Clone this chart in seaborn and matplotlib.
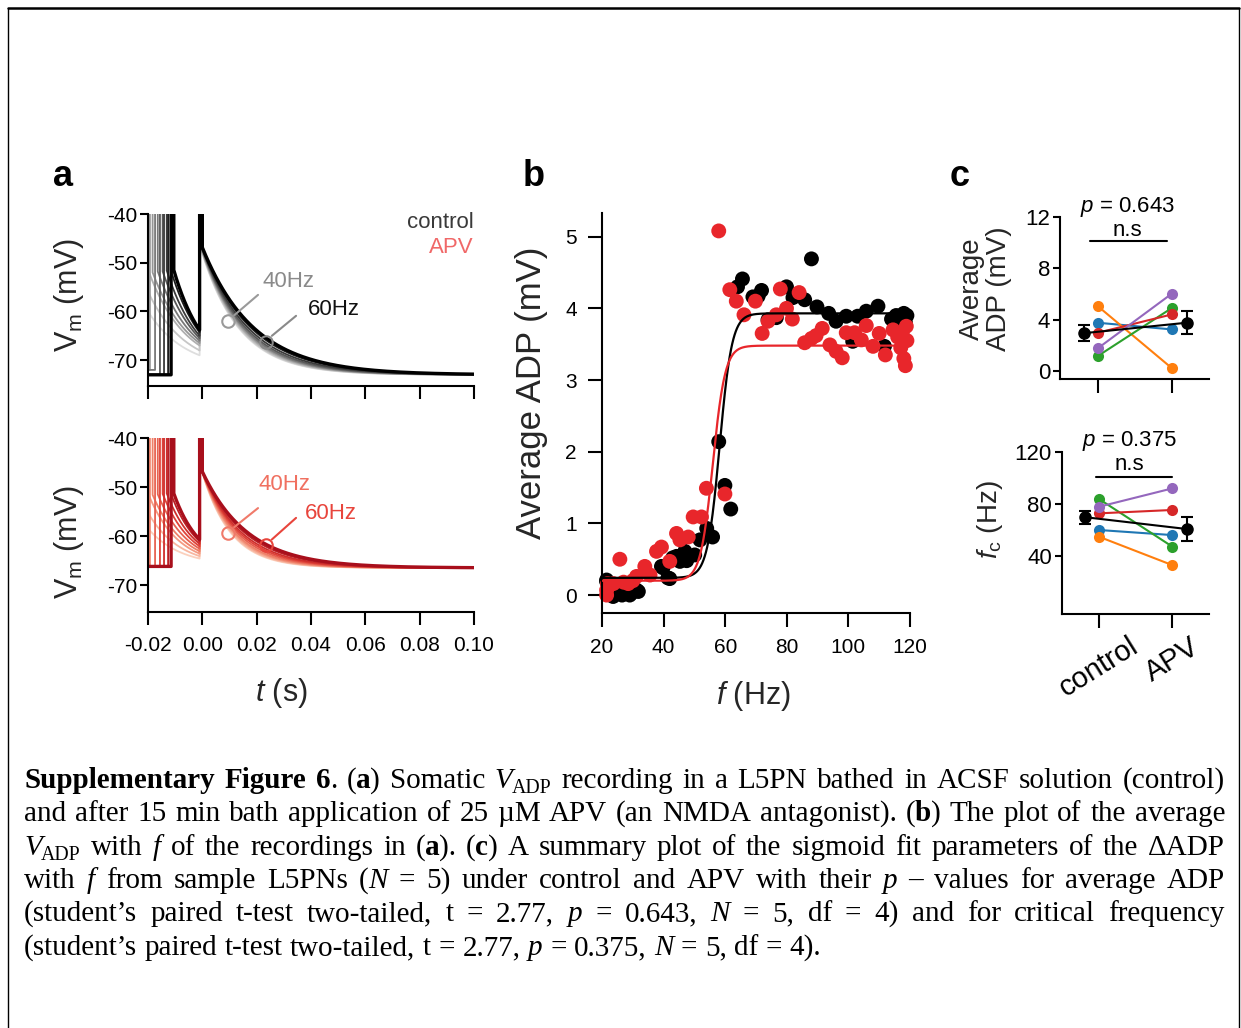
import numpy as np
import pandas as pd
import matplotlib
matplotlib.use("Agg")
import matplotlib.pyplot as plt
from matplotlib.lines import Line2D
from matplotlib.transforms import IdentityTransform
import seaborn as sns

# ---------------------------------------------------------------- data
# (a) somatic sweeps: time of the first spike (ms); every sweep fires again at t = 0
first_spike_ms = [-28.0, -24.0, -20.6, -19.3, -17.4, -15.6, -14.1, -12.6, -11.5]

ctrl_rest_pre = [-72.0, -72.0, -72.0, -72.0, -72.0, -73.0, -73.0, -73.0, -73.0]
ctrl_v_after_first = [-52.0, -52.0, -52.0, -52.0, -51.8, -51.8, -51.6, -51.5, -51.5]
ctrl_v_before_last = [-69.0, -68.0, -67.0, -66.5, -66.0, -65.5, -65.0, -64.3, -63.8]
ctrl_v_1ms = [-49.8, -49.6, -49.4, -49.2, -49.0, -48.8, -48.6, -48.4, -48.2]
ctrl_v_20ms = [-67.0, -66.8, -66.5, -66.2, -65.9, -65.5, -65.0, -64.4, -63.9]
ctrl_rest_post = -73.0

apv_rest_pre = [-66.2] * 9
apv_v_after_first = [-52.4, -52.0, -51.8, -51.6, -51.5, -51.4, -51.3, -51.3, -51.3]
apv_v_before_last = [-64.6, -64.1, -63.6, -63.1, -62.6, -62.1, -61.6, -61.1, -60.7]
apv_v_1ms = [-48.8, -48.7, -48.6, -48.5, -48.4, -48.3, -48.2, -48.1, -48.0]
apv_v_20ms = [-63.6, -63.4, -63.1, -62.8, -62.4, -62.0, -61.6, -61.1, -60.6]
apv_rest_post = -66.5

# (b) average ADP versus stimulation frequency
ctrl_f = [21.5, 21.5, 22.5, 23.6, 25.8, 26.5, 29.0, 29.6, 31.2, 31.8,
          39.3, 39.8, 41.4, 42.0, 43.0, 44.2, 45.3, 46.9, 47.5, 50.1,
          51.8, 54.0, 55.9, 57.9, 59.9, 61.8, 64.0, 65.6, 69.0, 70.7,
          71.8, 73.9, 76.6, 79.9, 82.0, 85.8, 88.0, 89.8, 93.6, 96.0,
          99.3, 101.4, 103.0, 105.8, 109.6, 111.7, 114.0, 115.5, 116.5, 117.5,
          118.5, 119.0, 118.0]
ctrl_adp = [0.21, 0.19, 0.05, -0.02, 0.05, 0.00, 0.00, 0.03, 0.07, 0.05,
            0.40, 0.38, 0.24, 0.23, 0.52, 0.54, 0.47, 0.61, 0.48, 0.56,
            0.77, 0.93, 0.81, 2.14, 1.53, 1.20, 4.30, 4.41, 4.16, 4.17,
            4.25, 3.84, 3.87, 4.30, 4.15, 4.12, 4.69, 4.02, 3.93, 3.82,
            3.89, 3.54, 3.89, 3.96, 4.03, 3.47, 3.85, 3.90, 3.82, 3.88,
            3.80, 3.90, 3.93]
apv_f = [21.5, 21.5, 21.8, 23.7, 25.8, 27.0, 28.5, 30.0, 31.2, 33.9,
         35.6, 37.7, 39.3, 42.0, 44.2, 45.3, 48.0, 49.6, 52.3, 53.9,
         57.9, 59.9, 61.5, 63.6, 66.1, 69.8, 72.0, 73.9, 76.6, 77.9,
         79.9, 81.8, 84.0, 85.8, 88.0, 89.5, 91.5, 94.0, 96.0, 98.0,
         99.3, 102.0, 104.2, 105.8, 108.0, 110.0, 112.0, 114.5, 116.0, 117.0,
         118.0, 118.5, 119.0, 118.8, 117.5]
apv_adp = [0.00, 0.07, 0.16, 0.16, 0.50, 0.18, 0.16, 0.20, 0.26, 0.40,
           0.28, 0.61, 0.67, 0.47, 0.86, 0.77, 0.81, 1.09, 1.09, 1.49,
           5.08, 1.41, 4.26, 4.10, 3.91, 4.10, 3.65, 3.82, 3.91, 4.27,
           4.00, 3.85, 4.22, 3.52, 3.58, 3.62, 3.72, 3.49, 3.40, 3.31,
           3.66, 3.66, 3.56, 3.76, 3.47, 3.65, 3.35, 3.70, 3.60, 3.45,
           3.30, 3.20, 3.55, 3.75, 3.65]

# sigmoid fit parameters: bottom, top, half-activation frequency, slope
ctrl_fit = [0.24, 3.93, 58.2, 2.0]
apv_fit = [0.20, 3.48, 56.0, 2.0]

# (c) per-cell sigmoid parameters
cell_names = ["cell 1", "cell 2", "cell 3", "cell 4", "cell 5"]
cell_colors = ["#1f77b4", "#ff7f0e", "#2ca02c", "#d62728", "#9467bd"]
conditions = ["control", "APV"]
adp_control = [3.75, 5.04, 1.16, 2.97, 1.76]
adp_apv = [3.23, 0.21, 4.90, 4.40, 6.02]
adp_err = [0.62, 0.88]
fc_control = [59.8, 54.6, 83.6, 72.6, 77.7]
fc_apv = [55.9, 32.8, 47.0, 75.2, 91.8]
fc_err = [5.1, 9.1]
p_adp = "0.643"
p_fc = "0.375"

# ---------------------------------------------------------------- style
sns.set_theme(style="ticks")
plt.rcParams["font.family"] = ["Liberation Sans", "DejaVu Sans"]
plt.rcParams["mathtext.fontset"] = "custom"
plt.rcParams["mathtext.rm"] = "Liberation Sans"
plt.rcParams["mathtext.it"] = "Liberation Sans:italic"
plt.rcParams["mathtext.bf"] = "Liberation Sans:bold"
plt.rcParams["axes.unicode_minus"] = False
plt.rcParams["axes.linewidth"] = 1.5
plt.rcParams["axes.edgecolor"] = "black"
plt.rcParams["xtick.color"] = "black"
plt.rcParams["ytick.color"] = "black"
plt.rcParams["text.color"] = "black"

W, H = 1241, 1028
fig = plt.figure(figsize=(W / 100, H / 100), dpi=100, facecolor="white")


def add_axes_px(x0, y0, x1, y1):
    return fig.add_axes([x0 / W, 1 - y1 / H, (x1 - x0) / W, (y1 - y0) / H])


def style_axes(ax):
    sns.despine(ax=ax)
    ax.set_facecolor("none")


# ---------------------------------------------------------------- (a)
T_START, T_END = -0.02, 0.10
SPIKE_PEAK = 0.0


def build_sweep(t1_ms, rest_pre, v_a, v_b, v1, v20, rest_post):
    t1 = t1_ms / 1000.0
    ts, vs = [], []
    t_isi0 = t1 + 0.001
    if t1 > T_START:
        ts += [T_START, t1, t1, t_isi0]
        vs += [rest_pre, rest_pre, SPIKE_PEAK, SPIKE_PEAK]
    tau_isi = (-0.001 - t_isi0) / np.log((v_a - rest_pre) / (v_b - rest_pre))
    t_isi = np.linspace(max(t_isi0, T_START), -0.001, 120)
    v_isi = rest_pre + (v_a - rest_pre) * np.exp(-(t_isi - t_isi0) / tau_isi)
    ts += list(t_isi) + [-0.001, 0.0]
    vs += list(v_isi) + [SPIKE_PEAK, SPIKE_PEAK]
    tau_adp = 0.019 / np.log((v1 - rest_post) / (v20 - rest_post))
    t_adp = np.linspace(0.0, T_END, 400)
    v_adp = rest_post + (v1 - rest_post) * np.exp(-(t_adp - 0.001) / tau_adp)
    ts += list(t_adp)
    vs += list(v_adp)
    return np.array(ts), np.array(vs)


def sweep_frame(rest_pre, v_a, v_b, v1, v20, rest_post):
    rows = []
    for i, t1 in enumerate(first_spike_ms):
        t, v = build_sweep(t1, rest_pre[i], v_a[i], v_b[i], v1[i], v20[i], rest_post)
        rows.append(pd.DataFrame({"t": t, "v": v, "sweep": f"s{i}"}))
    return pd.concat(rows, ignore_index=True)


sweep_names = [f"s{i}" for i in range(len(first_spike_ms))]
sweep_widths = {n: 1.3 for n in sweep_names}
sweep_widths[sweep_names[-1]] = 2.4
grey_pal = sns.blend_palette(["#dedede", "#a0a0a0", "#505050", "#000000"], len(sweep_names))
red_pal = sns.blend_palette(["#fbd0bd", "#f28a70", "#dc3a32", "#a80f1c"], len(sweep_names))

ax_a1 = add_axes_px(148, 214, 474, 386)
ax_a2 = add_axes_px(148, 438, 474, 612)

df_ctrl = sweep_frame(ctrl_rest_pre, ctrl_v_after_first, ctrl_v_before_last,
                      ctrl_v_1ms, ctrl_v_20ms, ctrl_rest_post)
df_apv = sweep_frame(apv_rest_pre, apv_v_after_first, apv_v_before_last,
                     apv_v_1ms, apv_v_20ms, apv_rest_post)

for ax, df, pal in [(ax_a1, df_ctrl, grey_pal), (ax_a2, df_apv, red_pal)]:
    sns.lineplot(data=df, x="t", y="v", hue="sweep", hue_order=sweep_names,
                 palette=pal, size="sweep", sizes=sweep_widths,
                 size_order=sweep_names, sort=False, estimator=None,
                 legend=False, ax=ax)
    style_axes(ax)
    ax.set_xlim(T_START, T_END)
    ax.set_xticks(np.arange(-0.02, 0.1001, 0.02))
    ax.set_yticks([-40, -50, -60, -70])
    ax.tick_params(axis="y", direction="out", length=6, width=1.5, pad=2, labelsize=15)
    ax.tick_params(axis="x", direction="out", length=9, width=1.5, pad=8, labelsize=15)
    ax.set_ylabel(r"V$_{\mathrm{m}}$ (mV)", fontsize=22)
    ax.set_xlabel("")

ax_a1.set_ylim(-75.3, -40)
ax_a2.set_ylim(-75.5, -40)
ax_a1.set_xticklabels([])
ax_a2.set_xticklabels([f"{v:.2f}" for v in np.arange(-0.02, 0.1001, 0.02)])
ax_a1.yaxis.set_label_coords(-0.19, 0.53)
ax_a2.yaxis.set_label_coords(-0.19, 0.40)
ax_a2.set_xlabel(r"$t$ (s)", fontsize=22)
ax_a2.xaxis.set_label_coords(0.408, -0.37)

ax_a1.text(1.0, 0.953, "control", transform=ax_a1.transAxes, ha="right",
           va="center", fontsize=16, color="#3a3a3a")
ax_a1.text(1.0, 0.808, "APV", transform=ax_a1.transAxes, ha="right",
           va="center", fontsize=16, color="#f06868")

# frequency markers
marks = [
    (ax_a1, (0.00945, -62.0), [(0.0117, 0.0205), (-60.8, -56.6)], (0.022, -53.8), "40Hz", "#9a9a9a", "#8a8a8a"),
    (ax_a1, (0.0234, -66.3), [(0.0256, 0.0345), (-65.0, -60.9)], (0.0389, -59.7), "60Hz", "#8a8a8a", "#111111"),
    (ax_a2, (0.00945, -59.4), [(0.0117, 0.0205), (-58.2, -54.3)], (0.0205, -49.4), "40Hz", "#f07a6a", "#f07060"),
    (ax_a2, (0.0234, -61.8), [(0.0256, 0.0345), (-60.7, -56.3)], (0.0378, -55.5), "60Hz", "#e8453c", "#e8453c"),
]
for ax, circ, leader, tpos, label, mcol, tcol in marks:
    ax.plot([circ[0]], [circ[1]], marker="o", ms=9, mfc="none", mec=mcol, mew=1.5, zorder=5)
    ax.plot(leader[0], leader[1], color=mcol, lw=1.5, zorder=5)
    ax.text(tpos[0], tpos[1], label, ha="left", va="center", fontsize=16, color=tcol)

# ---------------------------------------------------------------- (b)
ax_b = add_axes_px(602, 213, 910, 613)
df_b = pd.concat([
    pd.DataFrame({"f": ctrl_f, "adp": ctrl_adp, "cond": "control"}),
    pd.DataFrame({"f": apv_f, "adp": apv_adp, "cond": "APV"}),
], ignore_index=True)
sns.scatterplot(data=df_b, x="f", y="adp", hue="cond", hue_order=["control", "APV"],
                palette={"control": "black", "APV": "#e8262b"}, s=115,
                edgecolor="none", linewidth=0, legend=False, ax=ax_b, zorder=2,
                clip_on=False)


def sigmoid(f, bottom, top, half, slope):
    return bottom + (top - bottom) / (1.0 + np.exp((half - f) / slope))


f_line = np.linspace(20, 119, 500)
fit_df = pd.concat([
    pd.DataFrame({"f": f_line, "adp": sigmoid(f_line, *ctrl_fit), "cond": "control"}),
    pd.DataFrame({"f": f_line, "adp": sigmoid(f_line, *apv_fit), "cond": "APV"}),
], ignore_index=True)
sns.lineplot(data=fit_df, x="f", y="adp", hue="cond", hue_order=["control", "APV"],
             palette={"control": "black", "APV": "#e8262b"}, linewidth=1.6,
             estimator=None, sort=False, legend=False, ax=ax_b, zorder=3)
style_axes(ax_b)
ax_b.set_xlim(20, 120)
ax_b.set_ylim(-0.25, 5.33)
ax_b.set_xticks([20, 40, 60, 80, 100, 120])
ax_b.set_yticks([0, 1, 2, 3, 4, 5])
ax_b.tick_params(axis="y", direction="out", length=10, width=1.5, pad=8, labelsize=15)
ax_b.tick_params(axis="x", direction="out", length=10, width=1.5, pad=8, labelsize=15)
ax_b.set_ylabel("Average ADP (mV)", fontsize=25)
ax_b.yaxis.set_label_coords(-0.175, 0.55)
ax_b.set_xlabel(r"$f$ (Hz)", fontsize=22)
ax_b.xaxis.set_label_coords(0.49, -0.165)

# ---------------------------------------------------------------- (c)
ax_c1 = add_axes_px(1060, 216.7, 1209, 379.3)
ax_c2 = add_axes_px(1061.7, 451.7, 1209, 614.3)
mean_pos = [-0.19, 1.2]

for ax, ctrl_vals, apv_vals, errs in [(ax_c1, adp_control, adp_apv, adp_err),
                                      (ax_c2, fc_control, fc_apv, fc_err)]:
    df_c = pd.DataFrame({
        "pos": [0] * len(cell_names) + [1] * len(cell_names),
        "value": list(ctrl_vals) + list(apv_vals),
        "cell": cell_names * 2,
    })
    sns.lineplot(data=df_c, x="pos", y="value", hue="cell", hue_order=cell_names,
                 palette=cell_colors, marker="o", markersize=8, markeredgewidth=0,
                 linewidth=1.5, estimator=None, sort=False, legend=False, ax=ax)
    means = [np.mean(ctrl_vals), np.mean(apv_vals)]
    ax.errorbar(mean_pos, means, yerr=errs, fmt="o-", color="black", ms=8,
                lw=1.5, elinewidth=1.5, capsize=4, capthick=1.5, zorder=6)
    style_axes(ax)
    ax.set_xlim(-0.51, 1.5)
    ax.set_xticks([0, 1])
    ax.tick_params(axis="y", direction="out", length=5, width=1.5, pad=2, labelsize=16)
    ax.tick_params(axis="x", direction="out", length=10, width=1.5, pad=3, labelsize=21)
    ax.set_xlabel("")

ax_c1.set_ylim(-0.65, 12)
ax_c1.set_yticks([0, 4, 8, 12])
ax_c1.set_xticklabels([])
ax_c1.set_ylabel("Average\nADP (mV)", fontsize=20, linespacing=1.05)
ax_c1.yaxis.set_label_coords(-0.32, 0.555)
ax_c1.text(0.405, 12.74, rf"$p$ = {p_adp}", ha="center", va="center", fontsize=16, clip_on=False)
ax_c1.text(0.40, 10.9, "n.s", ha="center", va="center", fontsize=16, clip_on=False)
ax_c1.plot([-0.1, 0.93], [10.1, 10.1], color="black", lw=1.5)

ax_c2.set_ylim(-5, 120)
ax_c2.set_yticks([40, 80, 120])
ax_c2.set_xticklabels(conditions, rotation=32, ha="center")
ax_c2.set_ylabel(r"$f_{\mathrm{c}}$ (Hz)", fontsize=20)
ax_c2.yaxis.set_label_coords(-0.385, 0.58)
ax_c2.text(0.41, 128.2, rf"$p$ = {p_fc}", ha="center", va="center", fontsize=16, clip_on=False)
ax_c2.text(0.41, 109.8, "n.s", ha="center", va="center", fontsize=16, clip_on=False)
ax_c2.plot([-0.04, 0.99], [100.8, 100.8], color="black", lw=1.5)

# panel letters
for letter, (x, y) in zip("abc", [(63, 176), (534, 176), (960, 176)]):
    fig.text(x / W, 1 - y / H, letter, fontsize=26, fontweight="bold",
             ha="center", va="center")

# ---------------------------------------------------------------- caption
caption_lines = [
    [("Supplementary Figure 6", "b"), (". (", "n"), ("a", "b"), (") Somatic ", "n"),
     ("V", "i"), ("ADP", "s"), (" recording in a L5PN bathed in ACSF solution (control)", "n")],
    [("and after 15 min bath application of 25 µM APV (an NMDA antagonist). (", "n"),
     ("b", "b"), (") The plot of the average", "n")],
    [("V", "i"), ("ADP", "s"), (" with ", "n"), ("f", "i"), (" of the recordings in (", "n"),
     ("a", "b"), ("). (", "n"), ("c", "b"),
     (") A summary plot of the sigmoid fit parameters of the ΔADP", "n")],
    [("with ", "n"), ("f", "i"), (" from sample L5PNs (", "n"), ("N", "i"),
     (" = 5) under control and APV with their ", "n"), ("p", "i"),
     (" – values for average ADP", "n")],
    [("(student’s paired t-test two-tailed, t = 2.77, ", "n"), ("p", "i"),
     (" = 0.643, ", "n"), ("N", "i"), (" = 5, df = 4) and for critical frequency", "n")],
    [("(student’s paired t-test two-tailed, t = 2.77, ", "n"), ("p", "i"),
     (" = 0.375, ", "n"), ("N", "i"), (" = 5, df = 4).", "n")],
]
CAP_LEFT, CAP_RIGHT = 24, 1225
cap_baselines = [788, 821, 855, 888, 921, 955]
CAP_SIZE = 21


def split_words(runs):
    words = [[]]
    for text, style in runs:
        parts = text.split(" ")
        for i, part in enumerate(parts):
            if i > 0:
                words.append([])
            if part:
                words[-1].append((part, style))
    return [w for w in words if w]


def draw_caption():
    renderer = fig.canvas.get_renderer()
    inner = -0.5
    for k, (runs, yb) in enumerate(zip(caption_lines, cap_baselines)):
        placed = []
        for word in split_words(runs):
            pieces = []
            for text, style in word:
                kw = {"fontsize": CAP_SIZE, "family": "Liberation Serif"}
                dy = 0.0
                if style == "b":
                    kw["fontweight"] = "bold"
                elif style == "i":
                    kw["fontstyle"] = "italic"
                elif style == "s":
                    kw["fontsize"] = CAP_SIZE * 0.68
                    dy = -5.0
                art = fig.text(0, 0, text, transform=IdentityTransform(),
                               ha="left", va="baseline", **kw)
                w = art.get_window_extent(renderer).width
                pieces.append((art, w, dy))
            width = sum(p[1] for p in pieces) + inner * (len(pieces) - 1)
            placed.append((pieces, width))
        total = sum(p[1] for p in placed)
        if k < len(caption_lines) - 1 and len(placed) > 1:
            gap = (CAP_RIGHT - CAP_LEFT - total) / (len(placed) - 1)
        else:
            gap = 7.5
        x = CAP_LEFT
        for pieces, width in placed:
            xx = x
            for art, w, dy in pieces:
                art.set_position((xx, H - yb + dy))
                xx += w + inner
            x += width + gap


draw_caption()

# page frame
fig.add_artist(Line2D([8 / W, 1239 / W], [1 - 8 / H, 1 - 8 / H], color="black",
                      lw=1.8, transform=fig.transFigure))
for xf in (8 / W, 1239 / W):
    fig.add_artist(Line2D([xf, xf], [0, 1 - 8 / H], color="black", lw=1.0,
                          transform=fig.transFigure))

fig.savefig("out.png", dpi=100, facecolor="white")
